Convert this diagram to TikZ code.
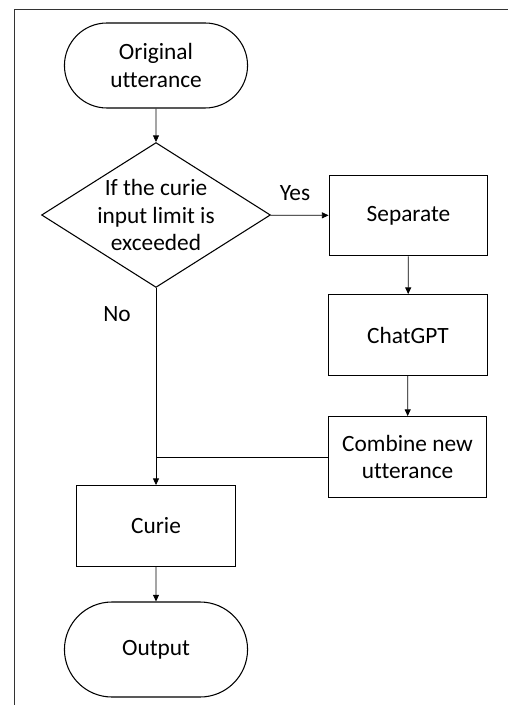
\documentclass[tikz,border=0pt]{standalone}
\usepackage{fontspec}
\setmainfont[Ligatures=NoCommon]{Carlito}
\usetikzlibrary{
    arrows.meta,
    shapes.geometric,
    shapes.misc,
    positioning
}

\begin{document}
\begin{tikzpicture}[x=0.75pt, y=-0.75pt,
        every node/.style={font=\fontsize{17.5}{20.3}\selectfont},
        term/.style={draw, line width=0.8pt, rounded rectangle, minimum width=144pt, align=center},
        proc/.style={draw, line width=0.9pt, rectangle, minimum width=119pt, minimum height=60.5pt, align=center},
        cond/.style={draw, line width=0.8pt, diamond, aspect=1.58, inner sep=0pt, minimum width=168pt, minimum height=106.5pt, align=center},
        flow/.style={line width=0.6pt, -{Triangle[length=5pt, width=4.5pt]}}]
                        \useasboundingbox (0, 0) rectangle (508, 705);
                        \draw[line width=1.1pt, black!80] (14.5, 705) -- (14.5, 9.5) -- (508, 9.5);

                        \node[term, minimum height=63.75pt] (orig) at (156, 65.5) {Original\\utterance};
                        \node[cond] (cond) at (156, 215) {If the curie\\input limit is\\exceeded};
                        \node[proc] (sep) at (408.5, 215.5) {Separate};
                        \node[proc] (chat) at (408, 335) {ChatGPT};
                        \node[proc] (comb) at (407.5, 457) {Combine new\\utterance};
                        \node[proc] (curie) at (156, 526) {Curie};
                        \node[term, minimum height=71.25pt] (out) at (156, 649.5) {Output};
                        \node (yes) at (295, 193) {Yes};
                        \node (no) at (117, 314) {No};
                        \coordinate (join) at (cond.south |- comb.west);

                        \draw
                        (orig) edge[flow] (cond)
                        (cond) edge[flow] (sep)
                        (sep) edge[flow] (chat)
                        (chat) edge[flow] (comb)
                        (cond) edge[flow] (curie)
                        (curie) edge[flow] (out);
                        \draw[line width=0.6pt] (comb.west) -- (join);
                    \end{tikzpicture}
\end{document}
